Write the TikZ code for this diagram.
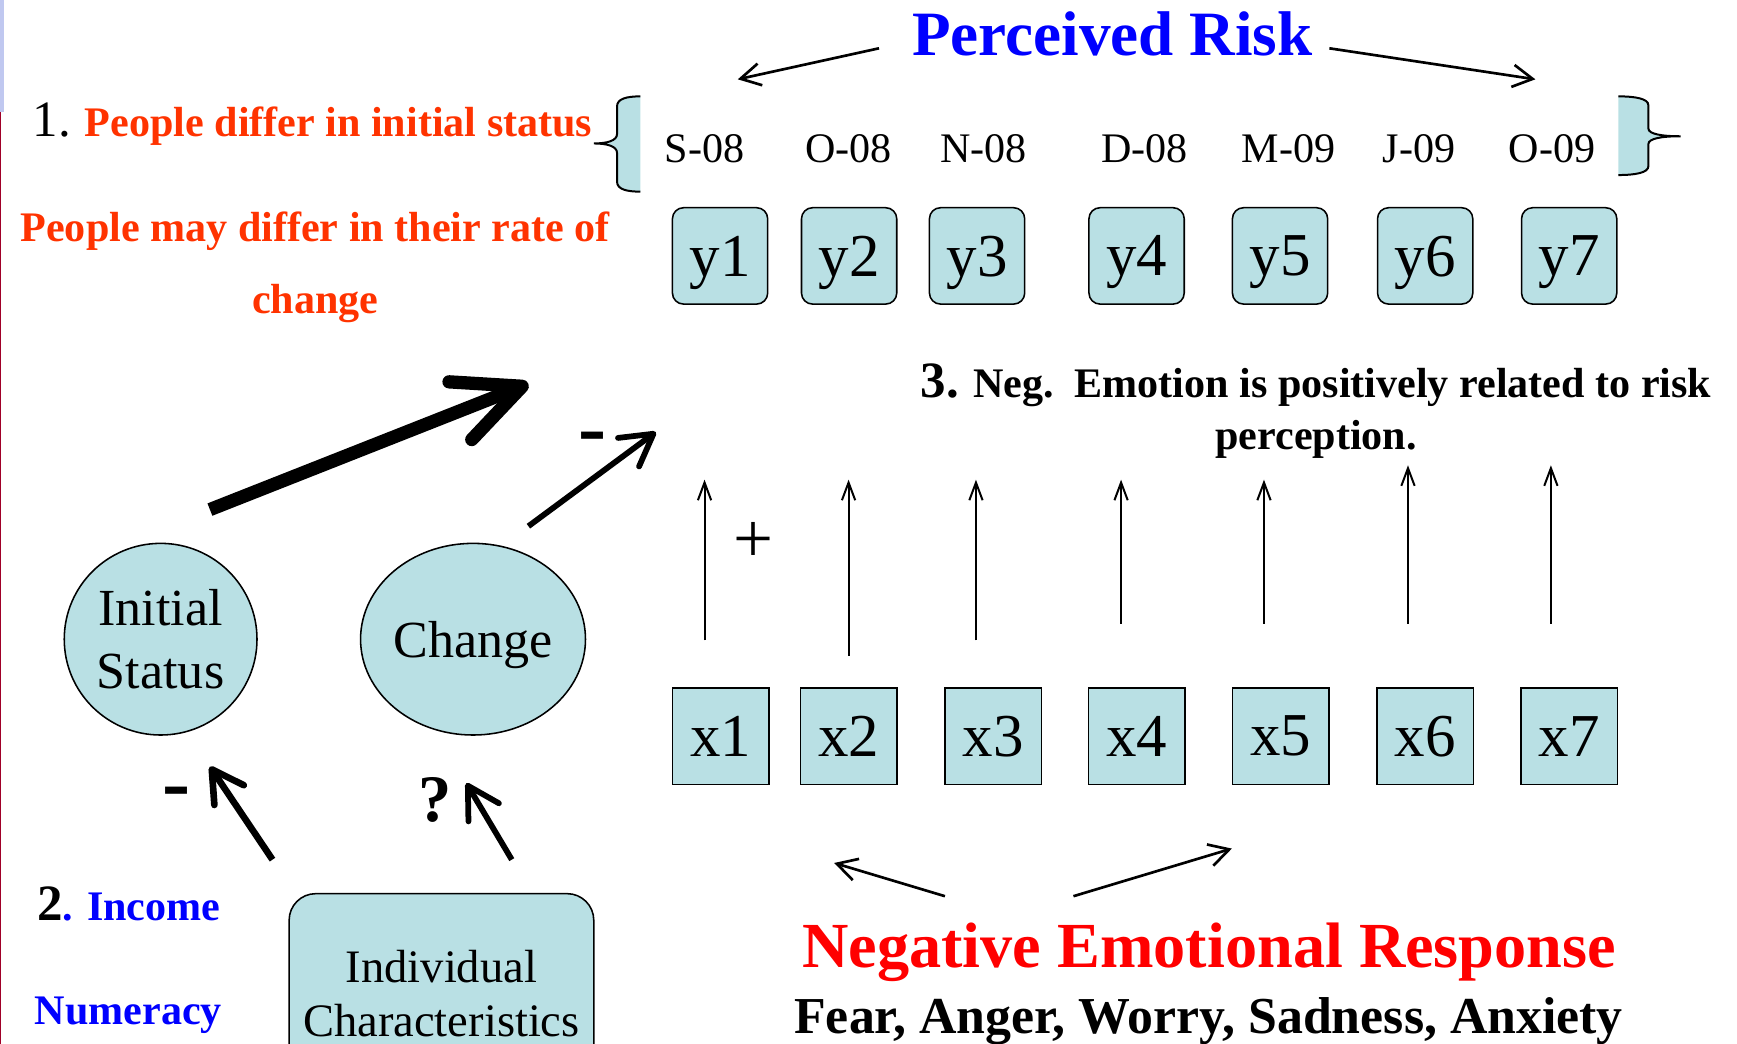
\documentclass[tikz,border=0pt]{standalone}
\usepackage{fontspec}
\setmainfont{Liberation Serif}
\usepackage{tikz}
\usetikzlibrary{arrows.meta, positioning, shapes.geometric}
\definecolor{boxfill}{RGB}{185,224,228}
\definecolor{ptred}{RGB}{255,51,0}
\definecolor{slidebar}{RGB}{192,200,240}
\definecolor{slideline}{RGB}{160,0,40}
\tikzset{
  ybox/.style ={rectangle, rounded corners=5pt, draw, fill=boxfill, line width=0.7pt, minimum width=43pt, minimum height=43.5pt, inner sep=0pt, text depth=0pt, font=\fontsize{27.5}{30}\selectfont},
  xbox/.style ={rectangle, draw, fill=boxfill, line width=0.7pt, minimum width=43.5pt, minimum height=43.5pt, inner sep=0pt, font=\fontsize{27.5}{30}\selectfont},
  lat/.style  ={ellipse, draw, fill=boxfill, line width=0.7pt, inner sep=0pt, align=center, font=\fontsize{23.5}{28.5}\selectfont},
  cov/.style  ={rectangle, rounded corners=12pt, draw, fill=boxfill, line width=0.7pt, align=center, inner sep=0pt, font=\fontsize{21}{24.5}\selectfont},
  brc/.style  ={fill=boxfill},
  brl/.style  ={draw, line width=0.9pt},
  dt/.style   ={anchor=base, inner sep=0pt, font=\fontsize{19}{22}\selectfont},
  txt/.style  ={inner sep=0pt, font=\bfseries\fontsize{19}{22}\selectfont},
  sgn/.style  ={inner sep=0pt, font=\bfseries\fontsize{30}{32}\selectfont},
  fl/.style   ={-{Straight Barb[length=8pt, width=6pt]}, line width=0.9pt},
  fl2/.style  ={-{Straight Barb[length=9pt, width=10pt]}, line width=1.2pt},
  flm/.style  ={-{Straight Barb[length=14pt, width=16pt, round]}, line width=2.6pt},
  flb/.style  ={-{Straight Barb[length=30pt, width=28pt, round]}, line width=6pt},
}

\begin{document}
\begin{tikzpicture}[x=0.5pt, y=-0.5pt]
  \useasboundingbox (0,0) rectangle (1568,942);
  \clip (0,0) rectangle (1568,942);
  \fill[slidebar] (0,0) rectangle (4,101);
  \draw[slideline, line width=0.6pt] (0.5,101) -- (0.5,942);

  % perceived risk
  \node[anchor=base, inner sep=0pt, text=blue, font=\bfseries\fontsize{28.5}{32}\selectfont] (pr) at (1004,50) {Perceived Risk};
  \coordinate (prl) at (793.5,43.6);
  \coordinate (prr) at (1200,43.6);
  \coordinate (tl) at (666,71.6);
  \coordinate (tr) at (1386,71.6);
  \draw[fl2] (prl) -- (tl);
  \draw[fl2] (prr) -- (tr);

  % braces
  \path[brc] (578,87) .. controls (566,87) and (557,89) .. (557,96) -- (557,121) .. controls (557,127) and (548,129.5) .. (536,129.5) .. controls (548,129.5) and (557,132) .. (557,138) -- (557,164) .. controls (557,171) and (566,173) .. (578,173) -- cycle;
  \path[brl] (578,87) .. controls (566,87) and (557,89) .. (557,96) -- (557,121) .. controls (557,127) and (548,129.5) .. (536,129.5) .. controls (548,129.5) and (557,132) .. (557,138) -- (557,164) .. controls (557,171) and (566,173) .. (578,173);
  \path[brc] (1461,87) .. controls (1476,87) and (1488,89) .. (1488,95) -- (1488,116) .. controls (1488,121) and (1500,123) .. (1517,123) .. controls (1500,123) and (1488,125) .. (1488,130) -- (1488,150) .. controls (1488,156) and (1476,158) .. (1461,158) -- cycle;
  \path[brl] (1461,87) .. controls (1476,87) and (1488,89) .. (1488,95) -- (1488,116) .. controls (1488,121) and (1500,123) .. (1517,123) .. controls (1500,123) and (1488,125) .. (1488,130) -- (1488,150) .. controls (1488,156) and (1476,158) .. (1461,158);

  \foreach \d/\x in {S-08/636, O-08/766, N-08/888, D-08/1033, M-09/1163, J-09/1281, O-09/1401}
    \node[dt] at (\x,147) {\d};

  \foreach \i/\x in {1/650, 2/766.5, 3/882, 4/1026, 5/1155.5, 6/1286.5, 7/1416.5}
    \node[ybox] (y\i) at (\x,231) {y\i};
  \foreach \i/\x in {1/650.5, 2/766, 3/896.5, 4/1026, 5/1156, 6/1286.5, 7/1416.5}
    \node[xbox] (x\i) at (\x,664.5) {x\i};

  % emotion -> risk
  \foreach \i/\x/\yb/\yt in {1/636/578/433, 2/766/592/433, 3/881/578/433, 4/1012/563/433, 5/1141/563/433, 6/1271/563/420, 7/1400/563/420} {
    \coordinate (eb\i) at (\x,\yb);
    \coordinate (et\i) at (\x,\yt);
    \draw[fl] (eb\i) -- (et\i);
  }
  \node[inner sep=0pt, font=\fontsize{32}{34}\selectfont] (plus) at (680,490) {+};

  \node[txt, anchor=base, align=center] (n3) at (1188,405.5) {{\fontsize{23}{26}\selectfont 3.} Neg.\ \ Emotion is positively related to risk\\[1.5pt] perception.};

  % growth model
  \node[txt, anchor=base west] (n1) at (29,123.5) {{\mdseries\fontsize{23}{26}\selectfont 1.} \textcolor{ptred}{People differ in initial status}};
  \node[txt, anchor=base, align=center, text=ptred, font=\bfseries\fontsize{19}{32.5}\selectfont] (n1b) at (284.5,283) {People may differ in their rate of\\change};

  \node[lat, minimum width=87pt, minimum height=86.5pt] (init) at (145,577) {Initial\\Status};
  \node[lat, minimum width=94.5pt, minimum height=86.5pt, text depth=0pt] (chg) at (427,577) {Change};

  \coordinate (bs) at (189.5,460);
  \coordinate (be) at (477,346.5);
  \coordinate (cs) at (477,475);
  \coordinate (ce) at (592,390);
  \draw[flb] (bs) -- (be);
  \draw[flm] (cs) -- (ce);
  \node[sgn, font=\bfseries\fontsize{38}{40}\selectfont] (m1) at (535,401) {-};

  % predictors
  \node[cov, anchor=north, minimum width=137.5pt, minimum height=90pt] (ind) at (398.5,806) {Individual\\Characteristics};
  \coordinate (ps) at (246,776);
  \coordinate (pe) at (189.5,692);
  \coordinate (qs) at (462,776);
  \coordinate (qe) at (421,707);
  \draw[flm, line width=3pt] (ps) -- (pe);
  \draw[flm] (qs) -- (qe);
  \node[sgn, font=\bfseries\fontsize{38}{40}\selectfont] (m2) at (159.5,721) {-};
  \node[sgn] (q) at (393,722) {?};

  \node[txt, anchor=base west] (n2) at (33,831) {{\fontsize{23}{26}\selectfont 2}\textcolor{blue}{. Income}};
  \node[txt, anchor=base west, text=blue] (num) at (31,925) {Numeracy};

  % emotional response
  \node[anchor=base, inner sep=0pt, text=red, font=\bfseries\fontsize{29}{32}\selectfont] (ner) at (1091.5,873) {Negative Emotional Response};
  \node[anchor=base, inner sep=0pt, font=\bfseries\fontsize{23.4}{26}\selectfont] (emo) at (1091,933) {Fear, Anger, Worry, Sadness, Anxiety};
  \coordinate (el) at (853,809);
  \coordinate (er) at (969,809);
  \coordinate (ell) at (753,779);
  \coordinate (err) at (1112,766);
  \draw[fl2] (el) -- (ell);
  \draw[fl2] (er) -- (err);
\end{tikzpicture}
\end{document}
